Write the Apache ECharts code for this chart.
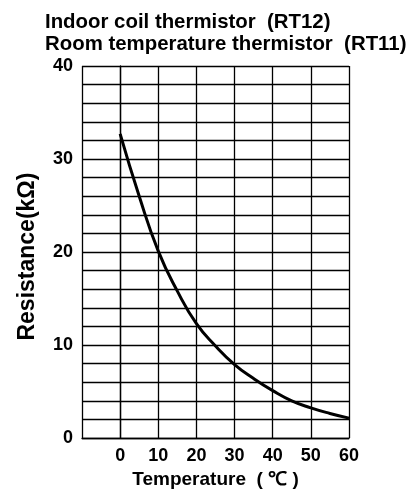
<!DOCTYPE html>
<html><head><meta charset="utf-8">
<script src="https://cdn.jsdelivr.net/npm/echarts@6/dist/echarts.min.js"></script>
<style>html,body{margin:0;padding:0;background:#fff}#c{width:413px;height:494px}</style>
</head><body><div id="c"></div>
<script>
const temps = [0, 5, 10, 15, 20, 25, 30, 35, 40, 45, 50, 55, 60];
const resistance = [32.7, 26.0, 20.1, 15.8, 12.3, 9.9, 7.9, 6.4, 5.1, 4.0, 3.25, 2.65, 2.15];
const titleLines = ['Indoor coil thermistor  (RT12)', 'Room temperature thermistor  (RT11)'];
const xName = 'Temperature  ( ℃ )';
const yName = 'Resistance(kΩ)';

const chart = echarts.init(document.getElementById('c'), null, {renderer: 'canvas'});
const F = 'Liberation Sans, Arial, sans-serif';
chart.setOption({
  animation: false,
  backgroundColor: '#fff',
  title: {
    text: titleLines.join('\n'),
    left: 40, top: 6,
    textStyle: {fontFamily: F, fontWeight: 'bold', fontSize: 20.4, lineHeight: 22, color: '#000'}
  },
  grid: {left: 82, right: 64, top: 66, bottom: 51},
  xAxis: {
    type: 'value', min: -10, max: 60, interval: 10,
    name: xName, nameLocation: 'middle', nameGap: 28,
    nameTextStyle: {fontFamily: F, fontWeight: 'bold', fontSize: 19, color: '#000'},
    axisLine: {show: true, lineStyle: {color: '#000', width: 1.3}},
    axisTick: {show: false},
    axisLabel: {fontFamily: F, fontWeight: 'bold', fontSize: 18, color: '#000', margin: 9,
      formatter: v => v < 0 ? '' : String(v)},
    splitLine: {show: true, lineStyle: {color: '#000', width: 1.3}}
  },
  yAxis: {
    type: 'value', min: 0, max: 40, interval: 2,
    name: yName, nameLocation: 'middle', nameGap: 43, nameRotate: 90,
    nameTextStyle: {fontFamily: F, fontWeight: 'bold', fontSize: 23, color: '#000', padding: [0, 9, 0, 0]},
    axisLine: {show: true, lineStyle: {color: '#000', width: 1.3}},
    axisTick: {show: false},
    axisLabel: {fontFamily: F, fontWeight: 'bold', fontSize: 18, color: '#000', margin: 9,
      formatter: v => v % 10 === 0 ? String(v) : ''},
    splitLine: {show: true, lineStyle: {color: '#000', width: 1.3}}
  },
  series: [{
    type: 'line', smooth: true, symbol: 'none',
    lineStyle: {color: '#000', width: 3},
    data: temps.map((t, i) => [t, resistance[i]])
  }]
});
</script></body></html>
